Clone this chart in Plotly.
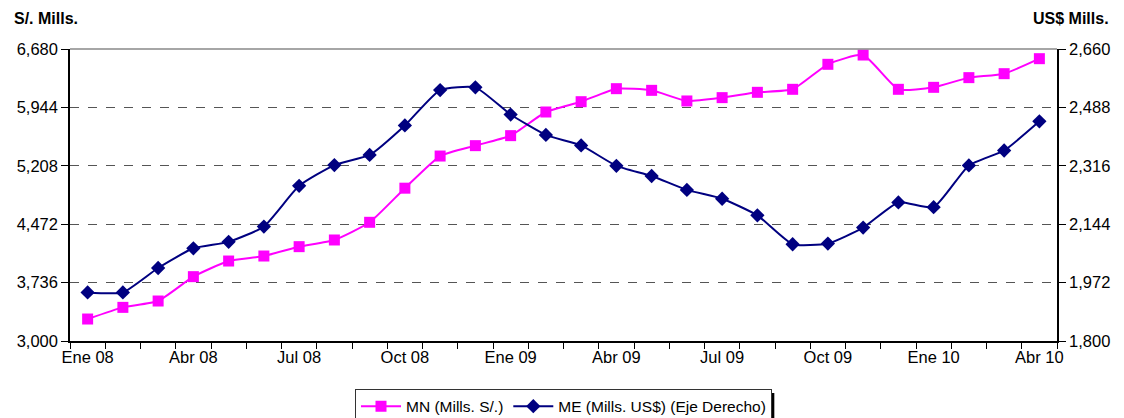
import plotly.graph_objects as go

months = ["Ene", "Feb", "Mar", "Abr", "May", "Jun", "Jul", "Ago", "Set", "Oct", "Nov", "Dic"]
categories = [f"{m} {y}" for y in ["08", "09", "10"] for m in months][:28]

mn_values = [3277, 3424, 3504, 3811, 4008, 4071, 4189, 4273, 4496, 4926,
             5331, 5462, 5588, 5886, 6016, 6180, 6159, 6025, 6067, 6134,
             6172, 6487, 6604, 6172, 6197, 6319, 6369, 6558]
me_values = [1943, 1943, 2015, 2073, 2092, 2137, 2257, 2318, 2348, 2435,
             2539, 2547, 2467, 2407, 2376, 2316, 2286, 2245, 2219, 2170,
             2085, 2087, 2134, 2208, 2194, 2317, 2361, 2447]

left_ticks = [3000, 3736, 4472, 5208, 5944, 6680]
right_ticks = [1800, 1972, 2144, 2316, 2488, 2660]
shown_labels = [c if i % 3 == 0 else "" for i, c in enumerate(categories)]

FONT = "Liberation Sans, Arial, sans-serif"

fig = go.Figure()
fig.add_trace(go.Scatter(
    x=categories, y=mn_values, name="MN (Mills. S/.)", mode="lines+markers",
    line=dict(color="#FF00FF", width=2, shape="spline", smoothing=0.5),
    marker=dict(symbol="square", size=11, color="#FF00FF"),
    yaxis="y"))
fig.add_trace(go.Scatter(
    x=categories, y=me_values, name="ME (Mills. US$) (Eje Derecho)", mode="lines+markers",
    line=dict(color="#000080", width=2, shape="spline", smoothing=0.5),
    marker=dict(symbol="diamond", size=11, color="#000080"),
    yaxis="y2"))

# page body has an 8px default margin; figure sized so it fills the window exactly
fig.update_layout(
    width=1116, height=410,
    margin=dict(l=62, r=67, t=41, b=77, autoexpand=False),
    paper_bgcolor="white", plot_bgcolor="white",
    font=dict(family=FONT, size=16, color="black"),
    showlegend=True,
    legend=dict(orientation="h", x=0.5, y=-0.163, xanchor="center", yanchor="top",
                bordercolor="#333333", borderwidth=1, bgcolor="white",
                font=dict(size=15.5, family=FONT), itemwidth=40,
                tracegroupgap=0),
    xaxis=dict(type="category", tickmode="array", tickvals=categories, ticktext=shown_labels,
               tickson="boundaries", ticks="outside", ticklen=6, tickcolor="black",
               tickangle=0, automargin=False,
               showline=True, linecolor="black", linewidth=1.5, showgrid=False,
               range=[-0.5, len(categories) - 0.5], tickfont=dict(size=16.5)),
    yaxis=dict(range=[3000, 6680], tickvals=left_ticks, tickformat=",",
               ticks="outside", ticklen=7, tickcolor="black", automargin=False,
               showline=True, linecolor="black", linewidth=1.5,
               showgrid=True, gridcolor="#555555", griddash="dash", gridwidth=1.2,
               zeroline=False, tickfont=dict(size=16.5)),
    yaxis2=dict(range=[1800, 2660], tickvals=right_ticks, tickformat=",",
                overlaying="y", side="right", automargin=False,
                ticks="outside", ticklen=7, tickcolor="black",
                showline=True, linecolor="black", linewidth=1.5,
                showgrid=False, zeroline=False, tickfont=dict(size=16.5)),
    shapes=[
        dict(type="line", xref="paper", yref="paper", x0=0, x1=1, y0=1, y1=1,
             line=dict(color="#888888", width=1.5)),
        dict(type="rect", xref="paper", yref="paper", x0=0.7095, x1=0.7136,
             y0=-0.27, y1=-0.178, fillcolor="black", line=dict(width=0)),
    ],
    annotations=[
        dict(text="<b>S/. Mills.</b>", xref="paper", yref="paper", x=-0.059, y=1.106,
             xanchor="left", yanchor="middle", showarrow=False, font=dict(size=16)),
        dict(text="<b>US$ Mills.</b>", xref="paper", yref="paper", x=1.055, y=1.106,
             xanchor="right", yanchor="middle", showarrow=False, font=dict(size=16)),
    ],
)

fig.write_html("out.html")
